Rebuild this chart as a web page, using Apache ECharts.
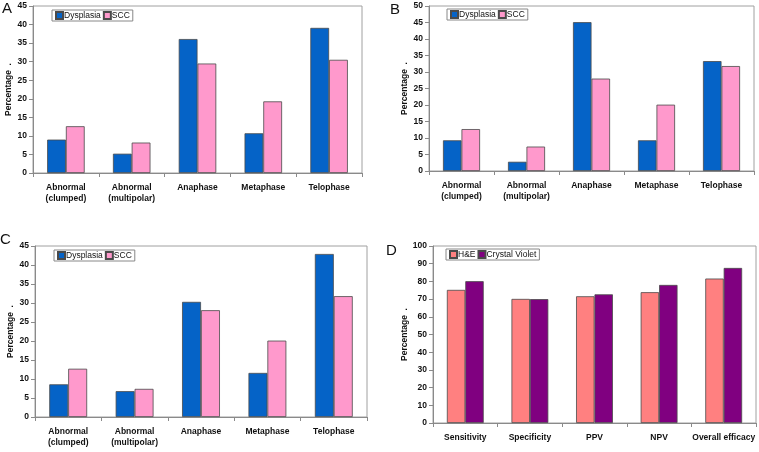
<!DOCTYPE html>
<html><head><meta charset="utf-8">
<script src="https://cdn.jsdelivr.net/npm/echarts@6/dist/echarts.min.js"></script>
<style>html,body{margin:0;padding:0;background:#fff}#c{width:759px;height:452px}</style>
</head><body><div id="c"></div>
<script>
const phaseCats = ['Abnormal\n(clumped)', 'Abnormal\n(multipolar)', 'Anaphase', 'Metaphase', 'Telophase'];
const aDysplasia = [9.0, 5.2, 36.1, 10.7, 39.1];
const aSCC = [12.6, 8.2, 29.5, 19.3, 30.5];
const bDysplasia = [9.3, 2.8, 45.1, 9.3, 33.3];
const bSCC = [12.7, 7.4, 28.0, 20.1, 31.8];
const cDysplasia = [8.6, 6.8, 30.3, 11.6, 42.9];
const cSCC = [12.7, 7.4, 28.1, 20.1, 31.8];
const dCats = ['Sensitivity', 'Specificity', 'PPV', 'NPV', 'Overall efficacy'];
const dHE = [75.2, 70.1, 71.6, 73.9, 81.6];
const dCV = [80.1, 70.0, 72.7, 78.0, 87.6];
const yMax = [45, 50, 45, 100];
const yStep = [5, 5, 5, 10];

const FONT = 'Liberation Sans, Arial, sans-serif';
const grids = [
  {left: 33, top: 6, width: 329, height: 167},
  {left: 429, top: 6, width: 325, height: 165},
  {left: 35, top: 246, width: 332, height: 171},
  {left: 433, top: 246, width: 323, height: 177}
];
const legendPos = [
  {left: 52, top: 10}, {left: 447, top: 9}, {left: 54, top: 250}, {left: 446, top: 249}
];
const nameGaps = [18, 18, 18, 23];
const chart = echarts.init(document.getElementById('c'));
const axisLineStyle = {color: '#8a8a8a', width: 1};
const option = {
  animation: false,
  backgroundColor: '#fff',
  grid: grids.map(g => Object.assign({show: true, borderColor: '#a0a0a0', borderWidth: 1, containLabel: false}, g)),
  xAxis: [0,1,2,3].map(i => ({
    type: 'category', gridIndex: i, data: i === 3 ? dCats : phaseCats,
    axisLine: {lineStyle: axisLineStyle},
    axisTick: {show: true, length: 4, lineStyle: axisLineStyle},
    axisLabel: {fontFamily: FONT, fontWeight: 'bold', fontSize: 8.5, color: '#111', margin: 9, lineHeight: 11, interval: 0}
  })),
  yAxis: [0,1,2,3].map(i => ({
    type: 'value', gridIndex: i, min: 0, max: yMax[i], interval: yStep[i],
    name: 'Percentage  .', nameLocation: 'middle', nameGap: nameGaps[i],
    nameTextStyle: {fontFamily: FONT, fontWeight: 'bold', fontSize: 8.5, color: '#111'},
    axisLine: {show: true, lineStyle: axisLineStyle},
    axisTick: {show: true, length: 4, lineStyle: axisLineStyle},
    splitLine: {show: false},
    axisLabel: {fontFamily: FONT, fontWeight: 'bold', fontSize: 8.5, color: '#111', margin: 6}
  })),
  legend: [0,1,2,3].map(i => Object.assign({
    data: i === 3 ? ['H&E', 'Crystal Violet'] : ['Dysplasia', 'SCC'],
    icon: 'rect', itemWidth: 7, itemHeight: 7, itemGap: 2,
    padding: [1, 3, 1, 3], borderColor: '#888', borderWidth: 1,
    textStyle: {fontFamily: FONT, fontSize: 8.5, color: '#111', padding: [0,0,0,-4]}
  }, legendPos[i])),
  series: [],
  graphic: [
    {type: 'text', left: 2, top: 1, style: {text: 'A', fontFamily: FONT, fontSize: 15, fill: '#111'}},
    {type: 'text', left: 390, top: 2, style: {text: 'B', fontFamily: FONT, fontSize: 15, fill: '#111'}},
    {type: 'text', left: 0, top: 232, style: {text: 'C', fontFamily: FONT, fontSize: 15, fill: '#111'}},
    {type: 'text', left: 386, top: 243, style: {text: 'D', fontFamily: FONT, fontSize: 15, fill: '#111'}}
  ]
};
const sets = [
  [['Dysplasia', aDysplasia, '#0563c7'], ['SCC', aSCC, '#ff99cc']],
  [['Dysplasia', bDysplasia, '#0563c7'], ['SCC', bSCC, '#ff99cc']],
  [['Dysplasia', cDysplasia, '#0563c7'], ['SCC', cSCC, '#ff99cc']],
  [['H&E', dHE, '#ff8080'], ['Crystal Violet', dCV, '#800080']]
];
sets.forEach((s, i) => s.forEach(([name, data, color]) => {
  option.series.push({
    type: 'bar', name, data, xAxisIndex: i, yAxisIndex: i,
    barGap: '0%', barCategoryGap: '43%',
    itemStyle: {color, borderColor: '#4a4a4a', borderWidth: 0.8}
  });
}));
chart.setOption(option);
</script></body></html>
